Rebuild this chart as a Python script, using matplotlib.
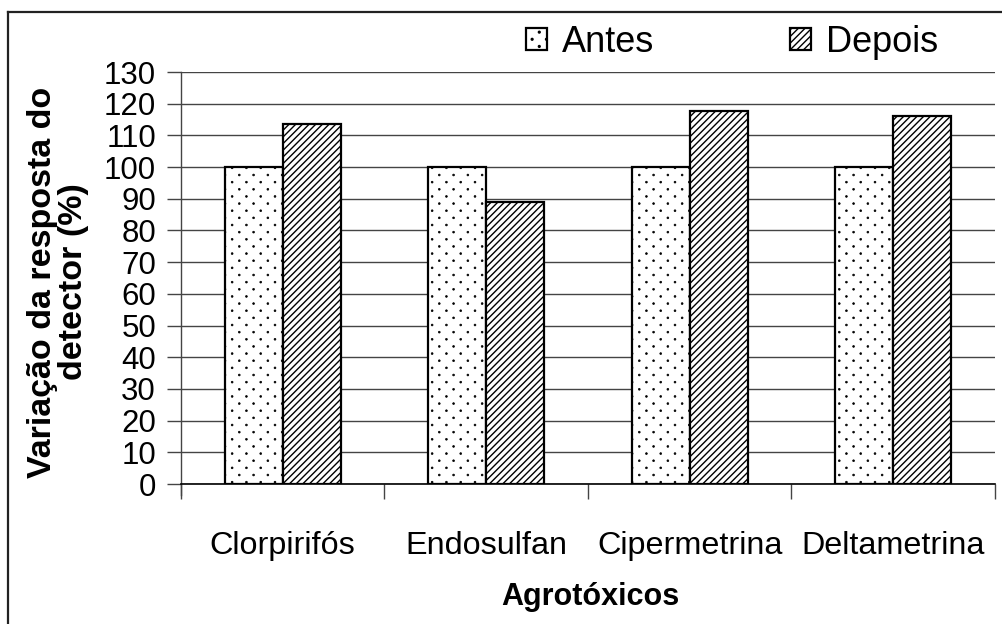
import matplotlib
matplotlib.use("Agg")
import matplotlib.pyplot as plt
import matplotlib.hatch as mhatch
from matplotlib.lines import Line2D
from matplotlib.path import Path
import numpy as np

plt.rcParams['font.family'] = ['Liberation Sans', 'DejaVu Sans']
plt.rcParams['hatch.color'] = 'black'

categories = ['Clorpirifós', 'Endosulfan', 'Cipermetrina', 'Deltametrina']
antes = [100, 100, 100, 100]
depois = [113.6, 89.1, 117.8, 116.2]
series_labels = ['Antes', 'Depois']
y_ticks = list(range(0, 131, 10))


class StaggeredDots(mhatch.HatchPatternBase):
    """Sparse staggered dot texture used for the '.' hatch."""

    def __init__(self, hatch, density):
        n = hatch.count('.')
        circle = Path.unit_circle()
        self.shape_vertices = circle.vertices
        self.shape_codes = circle.codes
        self.points = []
        if n:
            ncols, nrows = 7 * n, 14 * n
            for r in range(nrows):
                y = (r + 0.5) / nrows
                shift = 0.5 if r % 2 else 0.0
                for c in range(ncols):
                    self.points.append(((c + 0.25 + shift) / ncols, y))
        self.num_vertices = len(self.points) * len(self.shape_vertices)

    def set_vertices_and_codes(self, vertices, codes):
        radius = 0.009
        np.concatenate([self.shape_vertices * radius + p for p in self.points],
                       out=vertices)
        np.concatenate([self.shape_codes] * len(self.points), out=codes)


mhatch._hatch_types[:] = [StaggeredDots if t is mhatch.SmallFilledCircles else t
                          for t in mhatch._hatch_types]

W, H = 1003, 624
fig = plt.figure(figsize=(W / 100, H / 100), dpi=100)
ax = fig.add_axes([181 / W, (H - 484) / H, (995 - 181) / W, (484 - 72) / H])

for side in ['top', 'right']:
    ax.spines[side].set_visible(False)
ax.spines['left'].set_position(('data', -0.5))
ax.spines['left'].set_color('#444444')
ax.spines['bottom'].set_color('black')
ax.spines['left'].set_linewidth(1.0)
ax.spines['bottom'].set_linewidth(1.2)

x = np.arange(len(categories))
bw = 0.285
plt.rcParams['hatch.linewidth'] = 0.5
b1 = ax.bar(x - bw / 2, antes, bw, facecolor='white', edgecolor='black',
            linewidth=1.6, hatch='.', label=series_labels[0], zorder=3)
plt.rcParams['hatch.linewidth'] = 1.0
b2 = ax.bar(x + bw / 2, depois, bw, facecolor='white', edgecolor='black',
            linewidth=1.6, hatch='/////', label=series_labels[1], zorder=3)

ax.set_xlim(-0.5, len(categories) - 0.5)
ax.set_ylim(0, 130)
ax.spines['left'].set_bounds(-3.5, 130)
ax.set_yticks(y_ticks)
ax.set_yticklabels([str(v) for v in y_ticks])
ax.yaxis.grid(True, color='#444444', linewidth=1.0, zorder=0)
ax.set_axisbelow(True)

# category labels centred under each group, tick marks between groups
ax.set_xticks(x)
ax.set_xticklabels(categories)
ax.tick_params(axis='x', which='major', length=0, pad=34, labelsize=23.3)
ax.set_xticks(np.arange(-0.5, len(categories)), minor=True)
ax.tick_params(axis='x', which='minor', length=11, width=1.0, color='#444444',
               direction='out')
ax.tick_params(axis='y', length=10, width=1.0, color='#444444', direction='out',
               pad=8, labelsize=22.5)

fig.text(58 / W, (H - 282) / H, 'Variação da resposta do\ndetector (%)',
         rotation=90, ha='center', va='center', multialignment='center',
         fontsize=24.5, fontweight='bold', linespacing=1.02)
fig.text(590 / W, (H - 597) / H, 'Agrotóxicos', ha='center', va='center',
         fontsize=22, fontweight='bold')

fig.legend(handles=[b1, b2], labels=series_labels, loc='center left',
           bbox_to_anchor=(526 / W, (H - 42) / H), ncol=2, frameon=False,
           fontsize=26, handlelength=0.58, handleheight=0.58,
           handletextpad=0.42, columnspacing=3.75, borderpad=0, borderaxespad=0)

# outer frame (top and left edges visible)
fig.add_artist(Line2D([8 / W, 8 / W], [0, (H - 12) / H], color='#222222',
                      linewidth=1.6, transform=fig.transFigure))
fig.add_artist(Line2D([8 / W, 1], [(H - 12) / H, (H - 12) / H], color='#222222',
                      linewidth=1.6, transform=fig.transFigure))

fig.savefig('out.png', dpi=100)
